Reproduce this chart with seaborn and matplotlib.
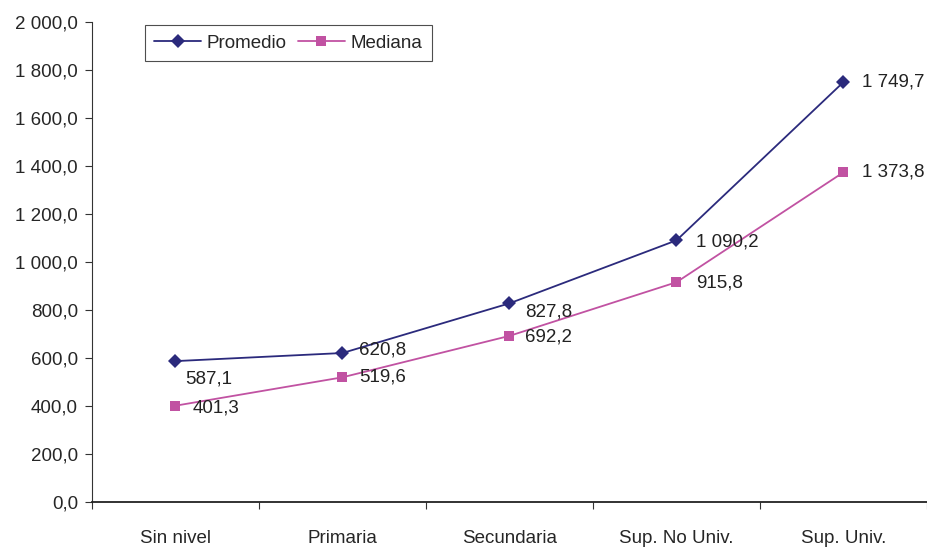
import matplotlib
matplotlib.use('Agg')
import matplotlib.pyplot as plt
import seaborn as sns
import pandas as pd
from matplotlib.ticker import FuncFormatter, FixedLocator

# datos
categorias = ['Sin nivel', 'Primaria', 'Secundaria', 'Sup. No Univ.', 'Sup. Univ.']
promedio = [587.1, 620.8, 827.8, 1090.2, 1749.7]
mediana = [401.3, 519.6, 692.2, 915.8, 1373.8]

sns.set_style('white')
plt.rcParams['font.family'] = ['Liberation Sans', 'DejaVu Sans']

def fmt_num(v):
    s = f'{v:,.1f}'
    return s.replace(',', ' ').replace('.', ',')

df = pd.DataFrame({
    'Nivel': categorias * 2,
    'Valor': promedio + mediana,
    'Serie': ['Promedio'] * 5 + ['Mediana'] * 5,
})

fig = plt.figure(figsize=(9.27, 5.48), dpi=100)
ax = fig.add_axes([0.0992, 0.0839, 0.9008, 0.876])

col_prom = '#2B2A7C'
col_med = '#C152A2'
fs = 13.5

sns.lineplot(data=df, x='Nivel', y='Valor', hue='Serie', style='Serie',
             palette={'Promedio': col_prom, 'Mediana': col_med},
             markers={'Promedio': 'D', 'Mediana': 's'}, dashes=False,
             markersize=7.5, markeredgewidth=0, linewidth=1.3, ax=ax, sort=False)

ax.set_ylim(0, 2000)
ax.set_xlim(-0.5, 4.5)
ax.set_yticks(range(0, 2001, 200))
ax.yaxis.set_major_formatter(FuncFormatter(lambda v, p: fmt_num(v)))
ax.set_xlabel('')
ax.set_ylabel('')

ax.xaxis.set_minor_locator(FixedLocator([-0.5, 0.5, 1.5, 2.5, 3.5, 4.5]))
ax.tick_params(axis='x', which='major', length=0, pad=20, labelsize=fs)
ax.tick_params(axis='x', which='minor', length=5, width=0.8, color='#333333', direction='out', bottom=True)
ax.tick_params(axis='y', length=5, width=0.8, color='#333333', direction='out', left=True, labelsize=fs, pad=5)

for s in ['top', 'right']:
    ax.spines[s].set_visible(False)
ax.spines['left'].set_color('#333333')
ax.spines['left'].set_linewidth(0.8)
ax.spines['bottom'].set_color('#222222')
ax.spines['bottom'].set_linewidth(1.3)

# etiquetas de datos (offset en puntos)
off_prom = [(7, -13), (12, 2), (11.5, -6.5), (14, -1), (13, 0)]
off_med = [(12, -1.5), (12, 0), (11.5, -0.5), (14, -0.5), (13, 0)]
for i, v in enumerate(promedio):
    ax.annotate(fmt_num(v), (i, v), xytext=off_prom[i], textcoords='offset points',
                ha='left', va='center', fontsize=fs, color='#222222')
for i, v in enumerate(mediana):
    ax.annotate(fmt_num(v), (i, v), xytext=off_med[i], textcoords='offset points',
                ha='left', va='center', fontsize=fs, color='#222222')

leg = ax.legend(loc='upper left', bbox_to_anchor=(0.052, 1.013), ncol=2, frameon=True,
                fancybox=False, edgecolor='#222222', fontsize=fs, borderpad=0.5,
                handlelength=2.5, columnspacing=0.6, handletextpad=0.3, title=None)
leg.get_frame().set_linewidth(0.8)

fig.savefig('out.png', dpi=100)
